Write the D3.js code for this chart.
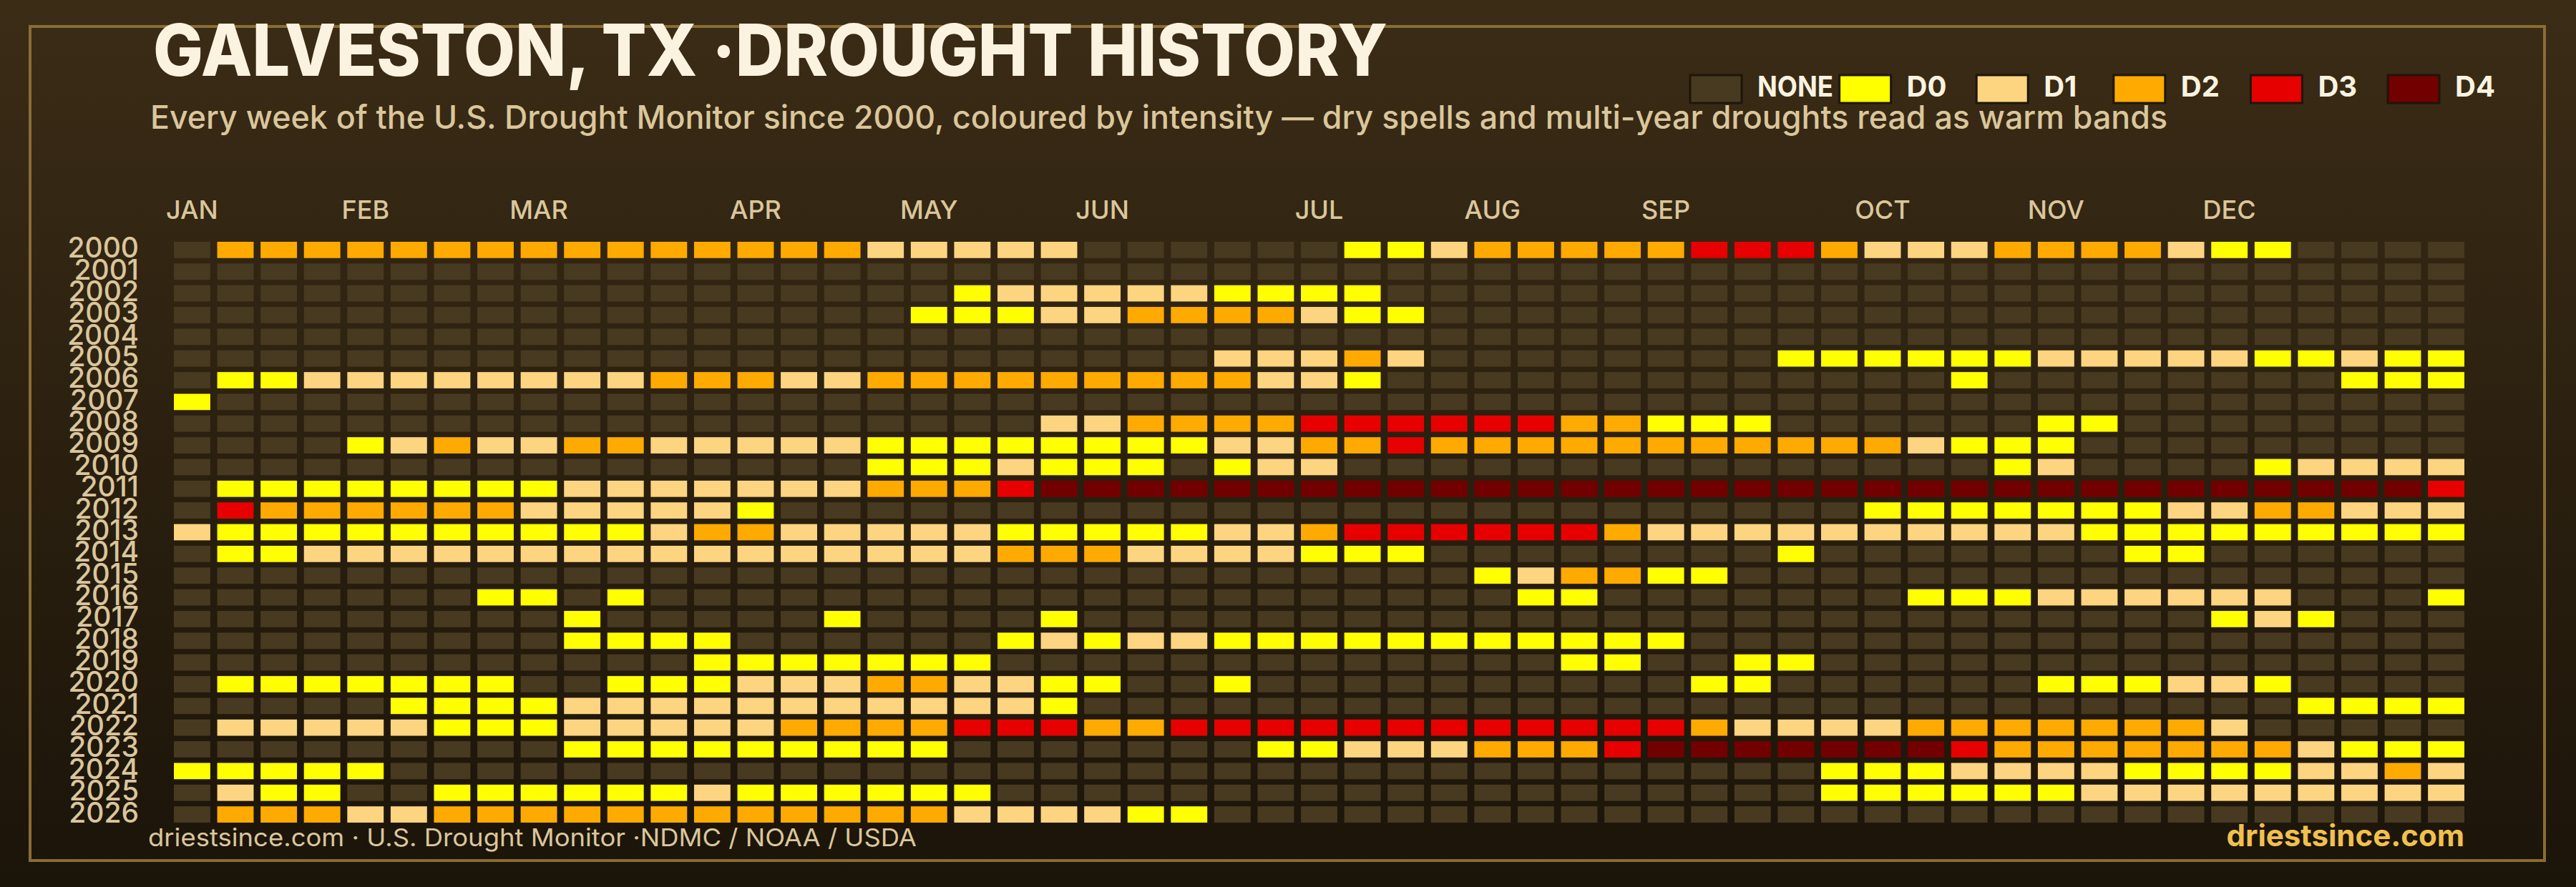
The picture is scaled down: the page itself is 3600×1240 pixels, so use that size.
<!DOCTYPE html>
<html>
<head>
<meta charset="utf-8">
<script src="https://cdn.jsdelivr.net/npm/d3@7"></script>
<style>
  html, body { margin: 0; padding: 0; background: #1b1409; }
  svg { display: block; }
</style>
</head>
<body>
<svg id="chart" width="3600" height="1240"></svg>
<script>
// ---------- DATA ----------
const years = [2000, 2001, 2002, 2003, 2004, 2005, 2006, 2007, 2008, 2009,
               2010, 2011, 2012, 2013, 2014, 2015, 2016, 2017, 2018, 2019,
               2020, 2021, 2022, 2023, 2024, 2025, 2026];

const levels = ["NONE", "D0", "D1", "D2", "D3", "D4"];

const monthLabels = ["JAN", "FEB", "MAR", "APR", "MAY", "JUN",
                     "JUL", "AUG", "SEP", "OCT", "NOV", "DEC"];
// week column each month label sits over
const monthWeeks = [0, 4, 8, 13, 17, 21, 26, 30, 34, 39, 43, 47];

// one string per year, 53 weekly categories: "-" = none, "0".."4" = D0..D4
const weeklyDrought = [
  "-2222222222" + "2222211111----" + "--001222223332" + "1112222100----", // 2000
  "-----------" + "--------------" + "--------------" + "--------------", // 2001
  "-----------" + "-------0111110" + "000-----------" + "--------------", // 2002
  "-----------" + "------00011222" + "2100----------" + "--------------", // 2003
  "-----------" + "--------------" + "--------------" + "--------------", // 2004
  "-----------" + "-------------1" + "1121--------00" + "00001111100100", // 2005
  "-0011111111" + "22211222222222" + "110-----------" + "--0--------000", // 2006
  "0----------" + "--------------" + "--------------" + "--------------", // 2007
  "-----------" + "---------11222" + "233333322000--" + "----00--------", // 2008
  "----0121122" + "11111000000001" + "12232222222222" + "21000---------", // 2009
  "-----------" + "-----0001000-0" + "11------------" + "---01----01111", // 2010
  "-0000000011" + "11111222344444" + "44444444444444" + "44444444444443", // 2011
  "-3222222111" + "110-----------" + "--------------" + "00000001122111", // 2012
  "10000000000" + "12211111000001" + "12333333211111" + "11111000000000", // 2013
  "-0011111111" + "11111111222111" + "1000--------0-" + "------00------", // 2014
  "-----------" + "--------------" + "-----012200---" + "--------------", // 2015
  "-------00-0" + "--------------" + "------00------" + "-000111111---0", // 2016
  "---------0-" + "----0----0----" + "--------------" + "--------010---", // 2017
  "---------00" + "00------010110" + "0000000000----" + "--------------", // 2018
  "-----------" + "-0000000------" + "-------00--00-" + "--------------", // 2019
  "-0000000--0" + "00111221100--0" + "----------00--" + "----000110----", // 2020
  "-----000011" + "1111111110----" + "--------------" + "----------0000", // 2021
  "-1111100011" + "11122223332233" + "33333333332111" + "122222221-----", // 2022
  "---------00" + "0000000-------" + "00111222344444" + "44322222221000", // 2023
  "00000------" + "--------------" + "-------------0" + "00111100001121", // 2024
  "-100--00000" + "01000000------" + "-------------0" + "00000111111111", // 2025
  "-2221122222" + "2222222111100-" + "--------------" + "--------------"  // 2026
];

// ---------- STYLE ----------
const levelColors = ["#483a20", "#ffff00", "#fdd480", "#ffaa00", "#e60000", "#730000"];
const cream = "#fbf3e0";
const tan = "#dac69b";
const gold = "#f0c04f";
const frameColor = "#8a6c36";
const FONT = "Inter, 'Open Sans', sans-serif";

// ---------- BUILD ----------
const weeks = d3.range(53);
const cells = [];
years.forEach((yr, r) => {
  const s = weeklyDrought[r];
  weeks.forEach(w => {
    const ch = s[w];
    cells.push({ year: yr, week: w, level: ch === "-" ? 0 : (+ch + 1) });
  });
});

const svg = d3.select("#chart");

// background gradient
const defs = svg.append("defs");
const grad = defs.append("linearGradient").attr("id", "bg")
  .attr("x1", 0).attr("y1", 0).attr("x2", 0).attr("y2", 1);
grad.append("stop").attr("offset", "0%").attr("stop-color", "#3b2c16");
grad.append("stop").attr("offset", "100%").attr("stop-color", "#1b1409");
svg.append("rect").attr("width", 3600).attr("height", 1240).attr("fill", "url(#bg)");

// frame
svg.append("rect")
  .attr("x", 42).attr("y", 37).attr("width", 3514).attr("height", 1166)
  .attr("fill", "none").attr("stroke", frameColor).attr("stroke-width", 4);

// scales
const x = d3.scaleBand().domain(weeks).range([243, 3444]).paddingInner(0.16);
const y = d3.scaleBand().domain(years).range([338, 1150]).paddingInner(0.25);
const color = d3.scaleOrdinal().domain(d3.range(levels.length)).range(levelColors);

// cells
svg.append("g").selectAll("rect")
  .data(cells)
  .join("rect")
  .attr("x", d => x(d.week))
  .attr("y", d => y(d.year))
  .attr("width", x.bandwidth())
  .attr("height", y.bandwidth())
  .attr("fill", d => color(d.level));

// month labels
svg.append("g").selectAll("text")
  .data(monthLabels)
  .join("text")
  .attr("x", (d, i) => x(monthWeeks[i]) + x.bandwidth() / 2)
  .attr("y", 306)
  .attr("text-anchor", "middle")
  .attr("font-family", FONT)
  .attr("font-weight", 500)
  .attr("font-size", 36)
  .attr("fill", tan)
  .text(d => d);

// year labels
svg.append("g").selectAll("text")
  .data(years)
  .join("text")
  .attr("x", 194)
  .attr("y", d => y(d) + y.bandwidth() - 0.5)
  .attr("text-anchor", "end")
  .attr("font-family", FONT)
  .attr("font-weight", 500)
  .attr("font-size", 39)
  .attr("fill", tan)
  .text(d => d);

// title & subtitle
svg.append("text")
  .attr("x", 214).attr("y", 106)
  .attr("font-family", FONT).attr("font-weight", 800).attr("font-size", 100)
  .attr("fill", cream)
  .attr("textLength", 1725).attr("lengthAdjust", "spacingAndGlyphs")
  .text("GALVESTON, TX ·DROUGHT HISTORY");

svg.append("text")
  .attr("x", 210).attr("y", 180)
  .attr("font-family", FONT).attr("font-weight", 500).attr("font-size", 45)
  .attr("fill", tan)
  .attr("textLength", 2819).attr("lengthAdjust", "spacingAndGlyphs")
  .text("Every week of the U.S. Drought Monitor since 2000, coloured by intensity \u2014 dry spells and multi-year droughts read as warm bands");

// legend
const legend = svg.append("g");
const legendX = (i) => 2379 + i * 191.6 - (i === 0 ? 17 : 0);
const items = legend.selectAll("g").data(levels).join("g")
  .attr("transform", (d, i) => `translate(${legendX(i)},105)`);
items.append("rect")
  .attr("width", 72).attr("height", 39)
  .attr("fill", (d, i) => color(i))
  .attr("stroke", "#1e1609").attr("stroke-width", 3);
items.append("text")
  .attr("x", 94).attr("y", 30)
  .attr("font-family", FONT).attr("font-weight", 700).attr("font-size", 40)
  .attr("fill", cream)
  .each(function (d, i) {
    if (i === 0) d3.select(this).attr("textLength", 106).attr("lengthAdjust", "spacingAndGlyphs");
  })
  .text(d => d);

// footer
svg.append("text")
  .attr("x", 207).attr("y", 1183)
  .attr("font-family", FONT).attr("font-weight", 400).attr("font-size", 34)
  .attr("fill", tan)
  .attr("textLength", 1074).attr("lengthAdjust", "spacingAndGlyphs")
  .text("driestsince.com  \u00b7 U.S. Drought Monitor \u00b7NDMC / NOAA / USDA");

svg.append("text")
  .attr("x", 3444).attr("y", 1183)
  .attr("text-anchor", "end")
  .attr("font-family", FONT).attr("font-weight", 700).attr("font-size", 42)
  .attr("fill", gold)
  .text("driestsince.com");
</script>
</body>
</html>
